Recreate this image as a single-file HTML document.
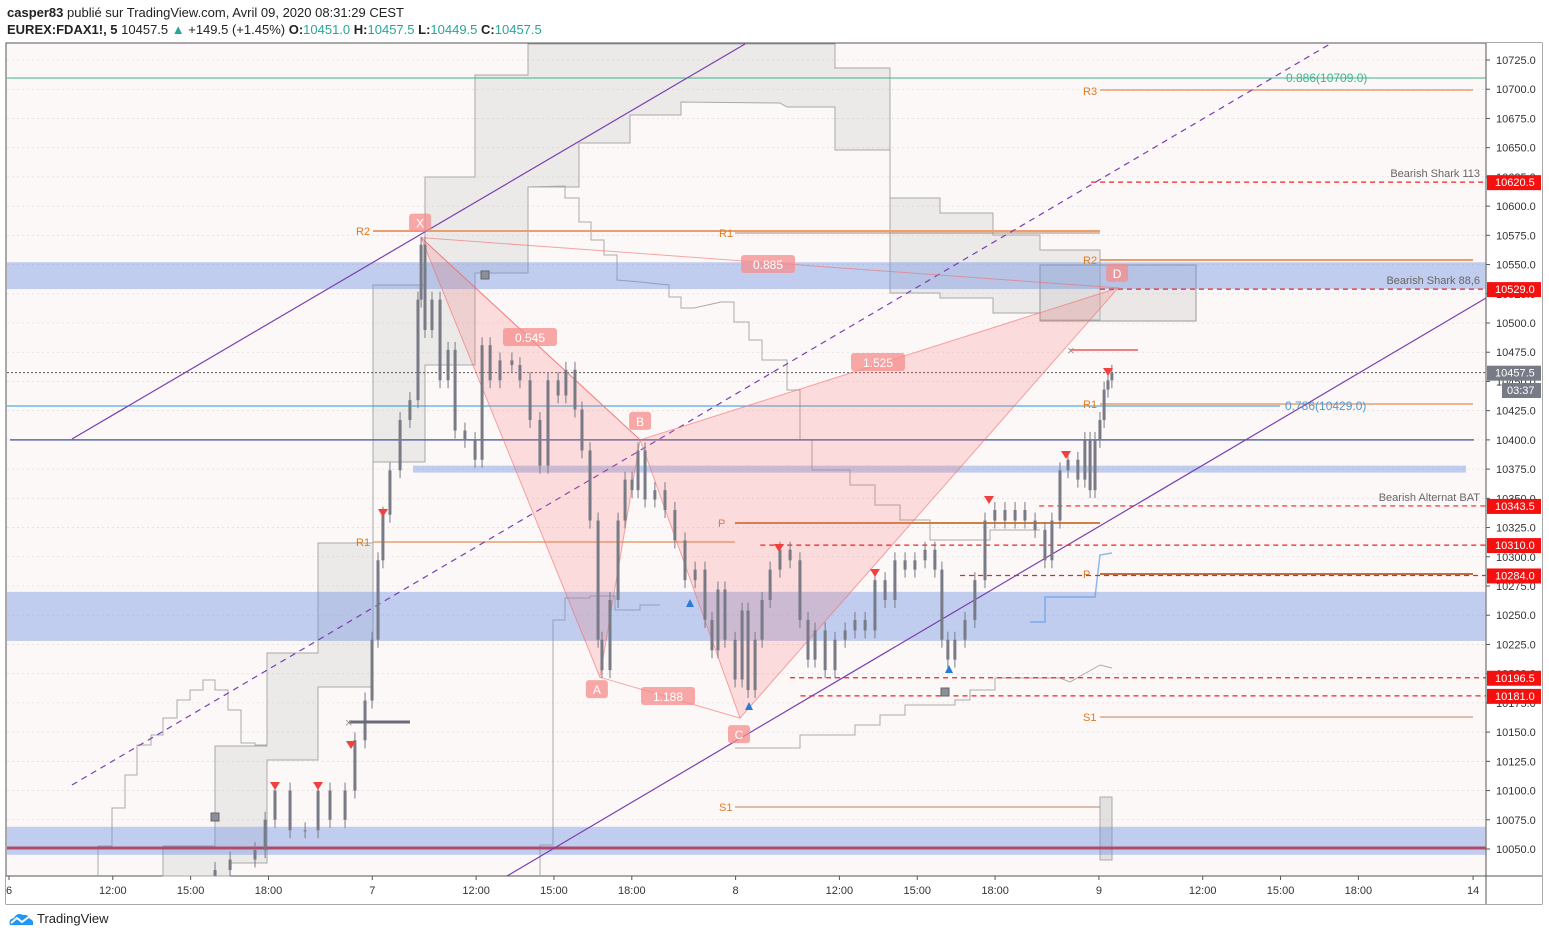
<!DOCTYPE html>
<html><head><meta charset="utf-8">
<style>
html,body{margin:0;padding:0;background:#fff;width:1549px;height:939px;overflow:hidden;font-family:"Liberation Sans",sans-serif;}
#hdr1{position:absolute;left:7px;top:5px;font-size:13px;color:#222;}
#hdr2{position:absolute;left:7px;top:22px;font-size:13px;color:#222;}
.g{color:#26a69a}
#logo{position:absolute;left:8px;top:911px;font-size:13px;color:#222;display:flex;align-items:center;gap:3px}
svg{position:absolute;left:0;top:0}
</style></head><body>
<div id="hdr1"><b>casper83</b> publié sur TradingView.com, Avril 09, 2020 08:31:29 CEST</div>
<div id="hdr2"><b>EUREX:FDAX1!, 5</b> 10457.5 <span class="g">▲</span> +149.5 (+1.45%) <b>O:</b><span class="g">10451.0</span> <b>H:</b><span class="g">10457.5</span> <b>L:</b><span class="g">10449.5</span> <b>C:</b><span class="g">10457.5</span></div>
<svg id="chart" width="1549" height="939"></svg>
<div id="logo"><svg width="26" height="14" style="position:static"><path d="M2 13 Q0 7 6 6 Q9 0 15 3 Q20 2 22 7 Q26 8 25 13 Z" fill="#2196f3"/><path d="M3 11 L9 6 L14 10 L22 4" stroke="#fff" stroke-width="2" fill="none"/></svg>TradingView</div>
<script>
const times=[7.94,8.52,9.48,9.87,10.25,10.83,11.41,11.91,12.37,12.95,13.33,13.72,13.99,14.22,14.41,14.68,15.07,15.45,15.76,15.88,16.03,16.30,16.61,16.92,17.19,17.57,17.96,18.23,18.54,18.92,19.38,19.69,20.08,20.46,20.77,21.16,21.46,21.81,22.08,22.39,22.70,22.85,23.16,23.47,23.74,24.01,24.24,24.51,24.89,25.28,25.66,26.05,26.44,26.82,27.09,27.32,27.59,27.98,28.25,28.48,28.75,29.02,29.33,29.71,30.10,30.48,30.79,31.06,31.45,31.83,32.22,32.60,32.99,33.37,33.76,34.14,34.53,34.91,35.30,35.68,35.95,36.18,36.45,36.84,37.22,37.61,37.99,38.38,38.77,39.15,39.54,39.92,40.19,40.50,40.81,41.19,41.46,41.66,41.85,42.04,42.20,42.35,42.50];
const closes=[10032,10041,10049,10075,10100,10066,10066,10100,10075,10100,10143,10177,10229,10297,10336,10374,10417,10434,10520,10567,10494,10520,10451,10477,10408,10400,10383,10481,10451,10468,10464,10451,10417,10378,10451,10438,10460,10426,10391,10331,10229,10203,10263,10331,10366,10357,10391,10349,10357,10340,10314,10280,10289,10246,10220,10272,10229,10195,10254,10186,10229,10263,10289,10306,10297,10246,10212,10237,10203,10229,10237,10246,10237,10280,10263,10297,10289,10297,10306,10289,10229,10212,10229,10246,10280,10331,10340,10331,10340,10331,10323,10297,10331,10374,10383,10366,10400,10357,10400,10417,10443,10451,10457.5];
const priceTicks=[10725,10700,10675,10650,10625,10600,10575,10550,10525,10500,10475,10450,10425,10400,10375,10350,10325,10300,10275,10250,10225,10200,10175,10150,10125,10100,10075,10050];
const timeTickT=[0,4,7,10,14,18,21,24,28,32,35,38,42,46,49,52,56.42];
const timeTickLabels=["6","12:00","15:00","18:00","7","12:00","15:00","18:00","8","12:00","15:00","18:00","9","12:00","15:00","18:00","14"];
const patternNames=["X","A","B","C","D"];
const patternT=[15.88,22.77,24.32,28.17,42.74];
const patternP=[10573,10197,10400,10162,10530];
const alertPrices=[10620.5,10529.0,10343.5,10310.0,10284.0,10196.5,10181.0];
const alertStartT=[41.7,42.04,39.7,28.95,36.65,30.1,30.5];

const NS="http://www.w3.org/2000/svg";
const svg=document.getElementById('chart');
const X=t=>9+t*25.95;
const Y=p=>849-(p-10050)*1.16889;
function el(tag,a,parent){const e=document.createElementNS(NS,tag);for(const k in a)e.setAttribute(k,a[k]);(parent||svg).appendChild(e);return e;}
function txt(s,a){const e=el('text',a);e.textContent=s;return e;}

let e=el('rect',{x:6,y:43,width:1536,height:861,fill:'#fdf8f8',stroke:'#555','stroke-width':1});

el('rect',{x:1486,y:43,width:56,height:861,fill:'#fff'});
el('rect',{x:6,y:876,width:1536,height:28,fill:'#fff'});
el('line',{x1:1486,y1:43,x2:1486,y2:904,stroke:'#555'});
el('line',{x1:6,y1:876,x2:1542,y2:876,stroke:'#555'});
priceTicks.forEach(p=>{el('line',{x1:7,x2:1486,y1:Y(p),y2:Y(p),stroke:'#e4dede','stroke-dasharray':'2,3','stroke-width':0.8});});

e=el('polygon',{points:'373,285 425,285 425,177 475,177 475,75 528,75 528,44 835,44 835,68 890,68 890,198 940,198 940,213 993,213 993,235 1040,235 1040,250 1100,250 1100,320 1040,320 1040,313 993,313 993,298 940,298 940,293 890,293 890,150 835,150 835,107 787,107 780,103 681,102 681,115 630,115 630,143 579,143 579,187 528,187 528,273 475,273 475,365 425,365 425,462 373,462',fill:'rgba(200,200,200,0.3)',stroke:'#a8a8a8','stroke-width':1});

e=el('polygon',{points:'163,846 215,846 215,746 267,746 267,653 318,653 318,543 373,543 373,285 373,687 318,687 318,760 267,760 267,863 230,863 230,876 163,876',fill:'rgba(200,200,200,0.3)',stroke:'#a8a8a8','stroke-width':1});

el('polyline',{points:'98,876 98,846 112,846 112,808 125,808 125,775 137,775 137,745 151,745 151,735 163,735 163,718 177,718 177,700 190,700 190,690 203,690 203,680 215,680 215,690 228,690 228,710 241,710 241,743 255,743 255,745 267,745',fill:'none',stroke:'#aaa'});
el('polyline',{points:'528,187 565,186 565,198 579,198 579,222 591,222 591,240 604,240 604,255 617,255 617,280 640,282 669,285 669,297 681,297 681,308 694,308 721,302 734,302 734,322 749,322 749,340 762,340 762,360 787,360 787,390 800,390 800,440 812,440 812,470 850,470 850,485 875,485 875,505 900,505 900,520 930,520 930,540 990,540 990,530 1040,530',fill:'none',stroke:'#aaa'});
el('polyline',{points:'540,876 540,845 553,845 553,826 553,620 565,620 565,598 590,598 590,596 615,596 615,610 640,610 640,605 660,605',fill:'none',stroke:'#aaa'});
el('polyline',{points:'735,748 800,748 800,735 855,735 855,725 880,725 880,715 905,715 905,705 955,705 955,700 970,700 970,690 995,690 995,678 1060,678 1070,682 1100,665 1112,668',fill:'none',stroke:'#aaa'});
el('polyline',{points:'1030,622 1045,622 1045,597 1095,597 1100,555 1112,553',fill:'none',stroke:'#90b8f0','stroke-width':1.5});
el('rect',{x:1040,y:265,width:156,height:56,fill:'rgba(200,200,200,0.35)',stroke:'#999'});
el('rect',{x:1100,y:797,width:12,height:63,fill:'rgba(200,200,200,0.5)',stroke:'#aaa'});

[[10552,10529,7,1486],[10270,10228,7,1486],[10069,10045,7,1486],[10378,10372,413,1466]].forEach((z,i)=>{
 const r=el('rect',{x:z[2],y:Y(z[0]),width:z[3]-z[2],height:Y(z[1])-Y(z[0]),fill:'rgba(110,145,225,0.42)'});
 });
el('line',{x1:7,x2:1486,y1:848,y2:848,stroke:'#b04a68','stroke-width':3});
el('line',{x1:10,x2:1474,y1:Y(10400),y2:Y(10400),stroke:'#5a6aa8','stroke-width':1.5});
el('line',{x1:7,x2:1280,y1:Y(10429),y2:Y(10429),stroke:'#2a98d8','stroke-width':1});
el('line',{x1:7,x2:1486,y1:78,y2:78,stroke:'#3bb58e','stroke-width':1});
el('line',{x1:7,x2:1486,y1:Y(10457.5),y2:Y(10457.5),stroke:'#555','stroke-dasharray':'2,2'});

[[373,1100,231,2,'#e8a070'],[735,1100,233,1,'#c08060'],[373,735,542,1.5,'#e8a070'],[735,1100,523,2,'#d08040'],[735,1100,807,1,'#c08060'],[1100,1473,90,1.5,'#e8a070'],[1100,1473,260,1.5,'#e08030'],[1100,1473,404,1.5,'#e8a070'],[1100,1473,574,2,'#c07040'],[1100,1473,717,1,'#c08060']].forEach(l=>{
 el('line',{x1:l[0],x2:l[1],y1:l[2],y2:l[2],stroke:l[4],'stroke-width':l[3]});});
[['R2',356,231],['R1',719,233],['R1',356,542],['P',718,523],['S1',719,807],['R3',1083,91],['R2',1083,260],['R1',1083,404],['P',1083,574],['S1',1083,717]].forEach(l=>{
 txt(l[0],{x:l[1],y:l[2]+4,fill:'#e07a20','font-size':11});});

el('line',{x1:72,y1:439,x2:745,y2:44,stroke:'#7b3fb0','stroke-width':1.2});
el('line',{x1:507,y1:876,x2:1486,y2:298,stroke:'#7b3fb0','stroke-width':1.2});
el('line',{x1:72,y1:785,x2:1330,y2:44,stroke:'#7b3fb0','stroke-width':1.2,'stroke-dasharray':'6,5'});

const px=patternT.map(X), py=patternP.map(Y);
e=el('polygon',{points:`${px[0]},${py[0]} ${px[1]},${py[1]} ${px[2]},${py[2]}`,fill:'rgba(245,120,120,0.22)',stroke:'rgba(240,110,110,0.6)'});

e=el('polygon',{points:`${px[2]},${py[2]} ${px[3]},${py[3]} ${px[4]},${py[4]}`,fill:'rgba(245,120,120,0.22)',stroke:'rgba(240,110,110,0.6)'});

[[0,2],[1,3],[0,4]].forEach(s=>el('line',{x1:px[s[0]],y1:py[s[0]],x2:px[s[1]],y2:py[s[1]],stroke:'rgba(240,110,110,0.6)'}));
function tag(s,cx,cy){const w=s.length*8+14;el('rect',{x:cx-w/2,y:cy-9,width:w,height:18,rx:3,fill:'rgba(245,140,140,0.75)'});txt(s,{x:cx,y:cy+5,'text-anchor':'middle',fill:'#fff','font-size':12});}
const tagOff=[[-1,-15],[-3,12],[0,-19],[-1,16],[-1,-15]];
patternNames.forEach((n,i)=>tag(n,px[i]+tagOff[i][0],py[i]+tagOff[i][1]));
tag('0.545',530,337);tag('1.188',668,696);tag('1.525',878,362);tag('0.885',768,264);

alertPrices.forEach((p,i)=>{el('line',{x1:X(alertStartT[i]),x2:1486,y1:Y(p),y2:Y(p),stroke:'#f02020','stroke-dasharray':'5,4','stroke-width':1.2});});

for(let i=0;i<closes.length;i++){
 const o=i?closes[i-1]:closes[0]-5,c=closes[i],x=X(times[i]);
 const hi=Math.max(o,c),lo=Math.min(o,c);
 const w=el('line',{x1:x,x2:x,y1:Y(hi)-8,y2:Math.min(Y(lo)+8,876),stroke:'#787b86','stroke-width':1});
 
 
 const r=el('rect',{x:x-1.5,y:Y(hi),width:3,height:Math.max(1,Math.min(Y(lo),876)-Y(hi)),fill:'#787b86'});
 
 
}

[[275,786],[318,786],[351,745],[383,513],[779,548],[875,573],[989,500],[1066,455],[1108,372]].forEach(m=>el('polygon',{points:`${m[0]-5},${m[1]-4} ${m[0]+5},${m[1]-4} ${m[0]},${m[1]+4}`,fill:'#f04040'}));
[[690,603],[749,706],[949,669]].forEach(m=>el('polygon',{points:`${m[0]-4},${m[1]+4} ${m[0]+4},${m[1]+4} ${m[0]},${m[1]-4}`,fill:'#2a7ad8'}));
[[215,817],[485,275],[945,692]].forEach(m=>el('rect',{x:m[0]-4,y:m[1]-4,width:8,height:8,fill:'#8a8f9a',stroke:'#666'}));
el('line',{x1:349,x2:410,y1:722,y2:722,stroke:'#6a6d78','stroke-width':3});
el('line',{x1:1070,x2:1138,y1:350,y2:350,stroke:'#f08080','stroke-width':2});
txt('×',{x:1067,y:355,fill:'#999','font-size':13});txt('×',{x:345,y:727,fill:'#999','font-size':13});

[['Bearish Shark 113',173],['Bearish Shark 88,6',280],['Bearish  Alternat BAT',497]].forEach(l=>txt(l[0],{x:1480,y:l[1]+4,'text-anchor':'end',fill:'#666','font-size':11,'xml:space':'preserve'}));
txt('0.886(10709.0)',{x:1286,y:82,fill:'#3bb58e','font-size':12});
txt('0.786(10429.0)',{x:1285,y:410,fill:'#4a9ad8','font-size':12});

priceTicks.forEach(p=>{el('line',{x1:1486,x2:1490,y1:Y(p),y2:Y(p),stroke:'#555'});
 txt(p.toFixed(1),{x:1496,y:Y(p)+4,fill:'#333','font-size':11});});
alertPrices.forEach(p=>{el('rect',{x:1487,y:Y(p)-7,width:54,height:15,fill:'#f51010'});
 txt(p.toFixed(1),{x:1495,y:Y(p)+4,fill:'#fff','font-size':11});});
el('rect',{x:1487,y:Y(10457.5)-7,width:54,height:15,fill:'#787b86'});
txt('10457.5',{x:1495,y:Y(10457.5)+4,fill:'#fff','font-size':11});
el('rect',{x:1502,y:383,width:39,height:15,fill:'#787b86'});
txt('03:37',{x:1507,y:394,fill:'#fff','font-size':11});

timeTickT.forEach((t,i)=>{const x=X(t);el('line',{x1:x,x2:x,y1:876,y2:880,stroke:'#555'});
 txt(timeTickLabels[i],{x:x,y:894,'text-anchor':'middle',fill:'#333','font-size':11});});
</script>
</body></html>
